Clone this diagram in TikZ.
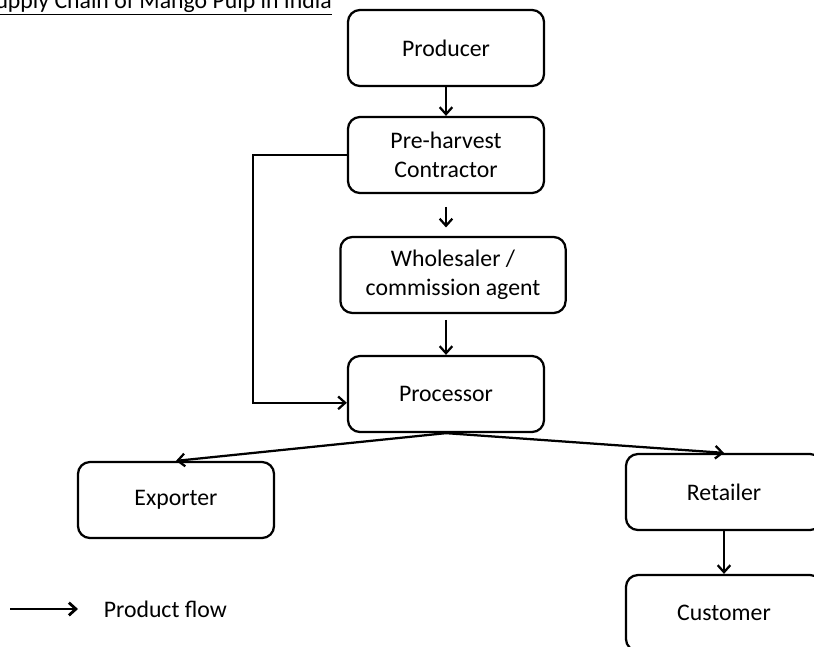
\documentclass[tikz,border=0pt]{standalone}
\usepackage{fontspec}
\setmainfont{Carlito}
\usepackage{tikz}
\usetikzlibrary{positioning, arrows.meta}

\begin{document}
\begin{tikzpicture}[x=0.025cm, y=-0.025cm, line width=1.6pt,
    >={Straight Barb[length=5pt, width=9pt]},
    font=\fontsize{16.9}{20.6}\selectfont,
    every node/.style={rectangle, rounded corners=0.3cm, draw, align=center,
        minimum width=4.9cm, minimum height=1.9cm}]
    \useasboundingbox (0,0) rectangle (814,646);
    \node[draw=none, minimum width=0, minimum height=0, inner sep=0, anchor=base east] (title) at (333,8) {\underline{Supply Chain of Mango Pulp in India}};
    \node (prod) at (446,48) {Producer};
    \node (pre) at (446,155) {Pre-harvest\\Contractor};
    \node (whole) [minimum width=5.63cm] at (453,275) {Wholesaler /\\commission agent};
    \node (proc) at (446,394) {Processor};
    \node (exp) at (176,500) {Exporter};
    \node (ret) at (724,492) {Retailer};
    \node (cust) at (724,613) {Customer};
    \draw[->] (prod) -- (pre);
    \draw[->, shorten <=9pt, shorten >=6pt] (pre.south) -- (pre.south |- whole.north);
    \draw[->, shorten <=4pt] (proc.north |- whole.south) -- (proc.north);
    \draw[->, rounded corners=0] (pre.west) -- ++(-94,0) |- ([yshift=-0.22cm]proc.west);
    \draw[->] (proc.south) -- (exp.north);
    \draw[->] (proc.south) -- (ret.north);
    \draw[->] (ret) -- (cust);
    \coordinate (lg1) at (10,609);
    \coordinate (lg2) at (78,609);
    \draw[->, line width=2pt] (lg1) -- (lg2);
    \node[draw=none, minimum width=0, minimum height=0, anchor=west] (legend) at (98,609) {Product flow};
\end{tikzpicture}
\end{document}
